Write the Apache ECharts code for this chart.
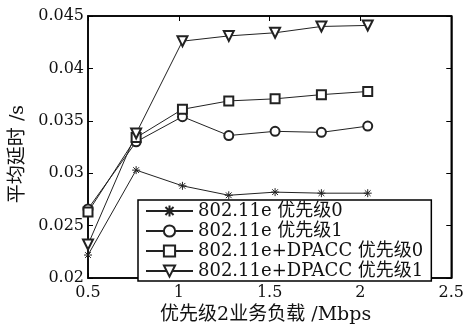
<!DOCTYPE html>
<html>
<head>
<meta charset="utf-8">
<script src="https://cdn.jsdelivr.net/npm/echarts@6/dist/echarts.min.js"></script>
<style>html,body{margin:0;padding:0;background:#fff}#c{width:467px;height:330px}</style>
</head>
<body>
<div id="c"></div>
<script>
var xs = [0.5, 0.765, 1.02, 1.275, 1.53, 1.785, 2.04];
var names = ['802.11e 优先级0', '802.11e 优先级1', '802.11e+DPACC 优先级0', '802.11e+DPACC 优先级1'];
var s0 = [0.0222, 0.0303, 0.0288, 0.0279, 0.0282, 0.0281, 0.0281];
var s1 = [0.0266, 0.0330, 0.0354, 0.0336, 0.0340, 0.0339, 0.0345];
var s2 = [0.0263, 0.0334, 0.0361, 0.0369, 0.0371, 0.0375, 0.0378];
var s3 = [0.0232, 0.0338, 0.0426, 0.0431, 0.0434, 0.0440, 0.0441];
var xTicks = {min: 0.5, max: 2.5, interval: 0.5};
var yTicks = {min: 0.020, max: 0.045, interval: 0.005};

var FONT = "'DejaVu Serif', 'Noto Sans CJK SC', serif";
function pairs(a){ return xs.map(function(x,i){ return [x, a[i]]; }); }
var star = 'path://M0,-5L0,5M-5,0L5,0M-3.6,-3.6L3.6,3.6M-3.6,3.6L3.6,-3.6';
var symbols = [star, 'emptyCircle', 'emptyRect', 'emptyTriangle'];
var sizes = [8, 9, 9, 10];
var rot = [0, 0, 0, 180];
var data = [s0, s1, s2, s3];

var series = data.map(function(d, i){
  return {
    name: names[i], type: 'line', data: pairs(d),
    symbol: symbols[i], symbolSize: sizes[i], symbolRotate: rot[i],
    showAllSymbol: true,
    lineStyle: {color: '#222', width: 1},
    itemStyle: {color: '#222', borderColor: '#222', borderWidth: 1},
    animation: false, z: 3
  };
});
series.push({type: 'line', xAxisIndex: 1, yAxisIndex: 1, data: [], silent: true});

function axisCommon(){
  return {
    axisLine: {show: true, onZero: false, lineStyle: {color: '#000', width: 1.5}},
    axisTick: {show: true, inside: true, length: 5, lineStyle: {color: '#000', width: 1}},
    splitLine: {show: false}
  };
}
var fmt = function(v){ return String(+v.toFixed(3)); };
var xa = Object.assign(axisCommon(), {type: 'value', position: 'bottom', min: xTicks.min, max: xTicks.max, interval: xTicks.interval,
  axisLabel: {fontFamily: FONT, fontSize: 16, color: '#111', margin: 7, formatter: fmt},
  name: '优先级2业务负载 /Mbps', nameLocation: 'middle', nameGap: 26,
  nameTextStyle: {fontFamily: FONT, fontSize: 19, color: '#111', padding: [0, 8, 0, 0]}});
var xa2 = Object.assign(axisCommon(), {type: 'value', position: 'top', min: xTicks.min, max: xTicks.max, interval: xTicks.interval, axisLabel: {show: false}});
var ya = Object.assign(axisCommon(), {type: 'value', position: 'left', min: yTicks.min, max: yTicks.max, interval: yTicks.interval,
  axisLabel: {fontFamily: FONT, fontSize: 16, color: '#111', margin: 4, formatter: fmt},
  name: '平均延时 /s', nameLocation: 'middle', nameGap: 60, nameRotate: 90,
  nameTextStyle: {fontFamily: FONT, fontSize: 19, color: '#111', padding: [0, 14, 0, 0]}});
var ya2 = Object.assign(axisCommon(), {type: 'value', position: 'right', min: yTicks.min, max: yTicks.max, interval: yTicks.interval, axisLabel: {show: false}});

var chart = echarts.init(document.getElementById('c'), null, {renderer: 'canvas'});
chart.setOption({
  animation: false,
  backgroundColor: '#fff',
  grid: {left: 88, right: 15, top: 16, bottom: 48, show: true, borderColor: '#000', borderWidth: 1.5},
  xAxis: [xa, xa2],
  yAxis: [ya, ya2],
  legend: {
    orient: 'vertical', left: 138, top: 200,
    backgroundColor: '#fff', borderColor: '#000', borderWidth: 1.5, borderRadius: 0,
    padding: [2, 8, 1, 7], itemWidth: 47, itemHeight: 14, itemGap: 2,
    textStyle: {fontFamily: FONT, fontSize: 18, color: '#111', lineHeight: 18},
    data: names
  },
  series: series
});
</script>
</body>
</html>
